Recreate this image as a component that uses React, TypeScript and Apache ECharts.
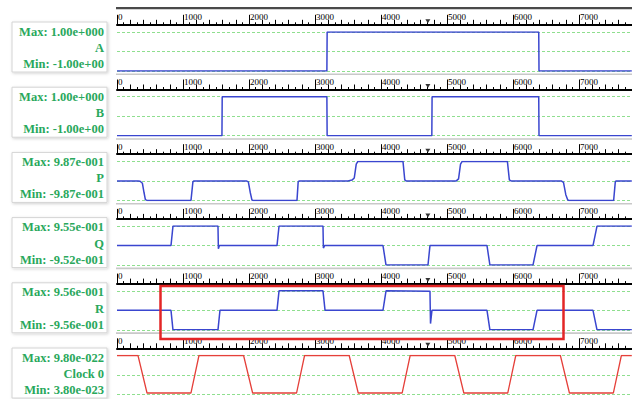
import { useEffect, useRef } from "react";
import * as echarts from "echarts";

// ---- labels ----
const signalNames = ["A", "B", "P", "Q", "R", "Clock 0"];
const maxTexts = ["Max: 1.00e+000", "Max: 1.00e+000", "Max: 9.87e-001", "Max: 9.55e-001", "Max: 9.56e-001", "Max: 9.80e-022"];
const minTexts = ["Min: -1.00e+00", "Min: -1.00e+00", "Min: -9.87e-001", "Min: -9.52e-001", "Min: -9.56e-001", "Min: 3.80e-023"];

// y ranges (clock values in units of 1e-22)
const yMins = [-1, -1, -0.987, -0.955, -0.956, 0];
const yMaxs = [1, 1, 0.987, 0.955, 0.956, 9.8];
const yIntervals = [1, 1, 0.987, 0.955, 0.956, 4.9];

// ruler
const rulerMax = 7800;
const rulerMajorTicks = [0, 1000, 2000, 3000, 4000, 5000, 6000, 7000];
const rulerMidStep = 200;
const rulerMinorStep = 100;
const markerTime = 4710;

// ---- signals: [time, value] ----
const signalA = [[0, -1], [3180, -1], [3184, 1], [6390, 1], [6394, -1], [7800, -1]];
const signalB = [[0, -1], [1590, -1], [1594, 1], [3180, 1], [3184, -1], [4770, -1], [4774, 1], [6390, 1], [6394, -1], [7800, -1]];
const signalP = [
  [0, 0], [318, 0], [350, -0.02], [385, -0.12], [410, -0.6], [430, -0.95], [455, -0.987],
  [1121, -0.987], [1150, -0.05], [1167, 0],
  [1960, 0], [1990, -0.05], [2020, -0.6], [2045, -0.97], [2060, -0.987],
  [2727, -0.987], [2745, -0.05], [2758, 0],
  [3500, 0], [3560, 0.04], [3595, 0.15], [3625, 0.85], [3650, 0.987],
  [4333, 0.987], [4360, 0.05], [4380, 0],
  [5140, 0], [5175, 0.1], [5205, 0.85], [5230, 0.987],
  [5915, 0.987], [5945, 0.05], [5970, 0],
  [6730, 0], [6765, -0.08], [6800, -0.7], [6830, -0.97], [6850, -0.987],
  [7525, -0.987], [7550, -0.05], [7565, 0], [7800, 0],
];
const signalQ = [
  [0, 0], [818, 0], [848, 0.955], [1530, 0.955], [1536, -0.15], [1552, 0],
  [2424, 0], [2455, 0.955], [3121, 0.955], [3127, -0.12], [3145, 0],
  [4030, 0], [4076, -0.952], [4712, -0.952], [4742, 0],
  [5606, 0], [5650, -0.952], [6303, -0.952], [6364, 0],
  [7212, 0], [7273, 0.955], [7800, 0.955],
];
const signalR = [
  [0, 0], [818, 0], [848, -0.956], [1530, -0.956], [1560, 0],
  [2424, 0], [2455, 0.956], [3121, 0.956], [3152, 0],
  [4030, 0], [4076, 0.956], [4742, 0.94], [4750, -0.65], [4772, 0],
  [5606, 0], [5650, -0.956], [6303, -0.956], [6364, 0],
  [7212, 0], [7273, -0.956], [7800, -0.956],
];
const signalClock = [
  [0, 9.8], [318, 9.8], [455, 0.38], [1121, 0.38], [1242, 9.8],
  [1918, 9.8], [2055, 0.38], [2721, 0.38], [2842, 9.8],
  [3518, 9.8], [3655, 0.38], [4321, 0.38], [4442, 9.8],
  [5118, 9.8], [5255, 0.38], [5921, 0.38], [6042, 9.8],
  [6718, 9.8], [6855, 0.38], [7521, 0.38], [7642, 9.8], [7800, 9.8],
];
const signals = [signalA, signalB, signalP, signalQ, signalR, signalClock];
const signalColors = ["#3a46cf", "#3a46cf", "#3a46cf", "#3a46cf", "#3a46cf", "#e5403a"];

export default function App() {
  const ref = useRef<HTMLDivElement>(null);
  useEffect(() => {
    if (!ref.current) return;
    const chart = echarts.init(ref.current, undefined, { renderer: "svg" });
    const grids: any[] = [];
    const xAxes: any[] = [];
    const yAxes: any[] = [];
    const series: any[] = [];
    const graphics: any[] = [];
    const left = 117;
    const right = 0.2;
    const labelGreen = "#29a85c";
    const font = "'Liberation Serif', 'DejaVu Serif', serif";

    for (let i = 0; i < 6; i++) {
      const b = 24.8 + i * 64.7;
      // wave grid
      grids.push({ left, right, top: b + 7.2, height: 39, outerBoundsMode: "none" });
      let gi = grids.length - 1;
      xAxes.push({ type: "value", gridIndex: gi, min: 0, max: rulerMax, show: false });
      yAxes.push({
        type: "value", gridIndex: gi, min: yMins[i], max: yMaxs[i], interval: yIntervals[i],
        axisLine: { show: false }, axisTick: { show: false }, axisLabel: { show: false },
        splitLine: { show: true, lineStyle: { color: "#8fdf8f", type: [3, 2], width: 1 } },
      });
      series.push({
        type: "line", xAxisIndex: xAxes.length - 1, yAxisIndex: yAxes.length - 1,
        data: signals[i], symbol: "none", silent: true, z: 3,
        lineStyle: { color: signalColors[i], width: i === 5 ? 1.3 : 1.5 },
      });

      // ruler: minor ticks
      grids.push({ left, right, top: b - 14, height: 14, outerBoundsMode: "none" });
      gi = grids.length - 1;
      xAxes.push({
        type: "value", gridIndex: gi, min: 0, max: rulerMax, interval: rulerMinorStep, position: "bottom",
        axisLine: { show: false }, axisLabel: { show: false }, splitLine: { show: false },
        axisTick: { show: true, inside: true, length: 2.5, lineStyle: { color: "#000", width: 1 } },
      });
      yAxes.push({ type: "value", gridIndex: gi, min: 0, max: 1, show: false });

      // ruler: mid ticks
      grids.push({ left, right, top: b - 14, height: 14, outerBoundsMode: "none" });
      gi = grids.length - 1;
      xAxes.push({
        type: "value", gridIndex: gi, min: 0, max: rulerMax, interval: rulerMidStep, position: "bottom",
        axisLine: { show: false }, axisLabel: { show: false }, splitLine: { show: false },
        axisTick: { show: true, inside: true, length: 5, lineStyle: { color: "#000", width: 1 } },
      });
      yAxes.push({ type: "value", gridIndex: gi, min: 0, max: 1, show: false });

      // ruler: major ticks + labels
      grids.push({ left, right, top: b - 14, height: 14, outerBoundsMode: "none" });
      gi = grids.length - 1;
      xAxes.push({
        type: "value", gridIndex: gi, min: 0, max: rulerMax, interval: 1000, position: "bottom",
        axisLine: { show: true, lineStyle: { color: "#000", width: 2 } },
        splitLine: { show: false },
        axisTick: { show: true, inside: true, length: 10, customValues: rulerMajorTicks, lineStyle: { color: "#000", width: 1 } },
        axisLabel: {
          show: true, inside: true, customValues: rulerMajorTicks, formatter: (v: number) => String(v),
          align: "left", padding: [0, 0, 0, 1], margin: 3, fontSize: 9, fontFamily: font, color: "#000",
          hideOverlap: false,
        },
      });
      yAxes.push({ type: "value", gridIndex: gi, min: 0, max: 1, show: false });
      series.push({
        type: "scatter", xAxisIndex: xAxes.length - 1, yAxisIndex: yAxes.length - 1,
        data: [[markerTime, 0.25]], symbol: "triangle", symbolRotate: 180, symbolSize: [5, 4],
        itemStyle: { color: "#000" }, silent: true,
      });

      // separators
      if (i === 0) {
        graphics.push({ type: "rect", shape: { x: 116, y: 7, width: 516, height: 2.2 }, style: { fill: "#4a4a4a" }, silent: true });
      } else {
        graphics.push({ type: "rect", shape: { x: 116, y: b - 16, width: 516, height: 1.6 }, style: { fill: "#c9c9c9" }, silent: true });
      }

      // label box
      const bt = 22 + i * 65.2;
      graphics.push({
        type: "rect", shape: { x: 12, y: bt, width: 95, height: 50 },
        style: { fill: "#ffffff", stroke: "#d4d4d4", lineWidth: 1, shadowBlur: 3, shadowOffsetX: 1, shadowOffsetY: 1, shadowColor: "rgba(0,0,0,0.18)" },
        silent: true,
      });
      const lines = [maxTexts[i], signalNames[i], minTexts[i]];
      const offs = [9.5, 26, 42];
      lines.forEach((t, k) => {
        graphics.push({
          type: "text", x: 104, y: bt + offs[k],
          style: { text: t, align: "right", verticalAlign: "middle", fontSize: 12.5, fontWeight: "bold", fontFamily: font, fill: labelGreen },
          silent: true,
        });
      });
    }

    // red highlight box
    graphics.push({
      type: "rect", shape: { x: 160.5, y: 286, width: 403, height: 53 },
      style: { fill: "none", stroke: "#e32626", lineWidth: 2.5 }, z: 100, silent: true,
    });

    chart.setOption({
      animation: false,
      backgroundColor: "#ffffff",
      grid: grids,
      xAxis: xAxes,
      yAxis: yAxes,
      series,
      graphic: { elements: graphics },
    });
    return () => chart.dispose();
  }, []);
  return <div ref={ref} style={{ position: "fixed", left: 0, top: 0, width: 632, height: 399 }} />;
}
